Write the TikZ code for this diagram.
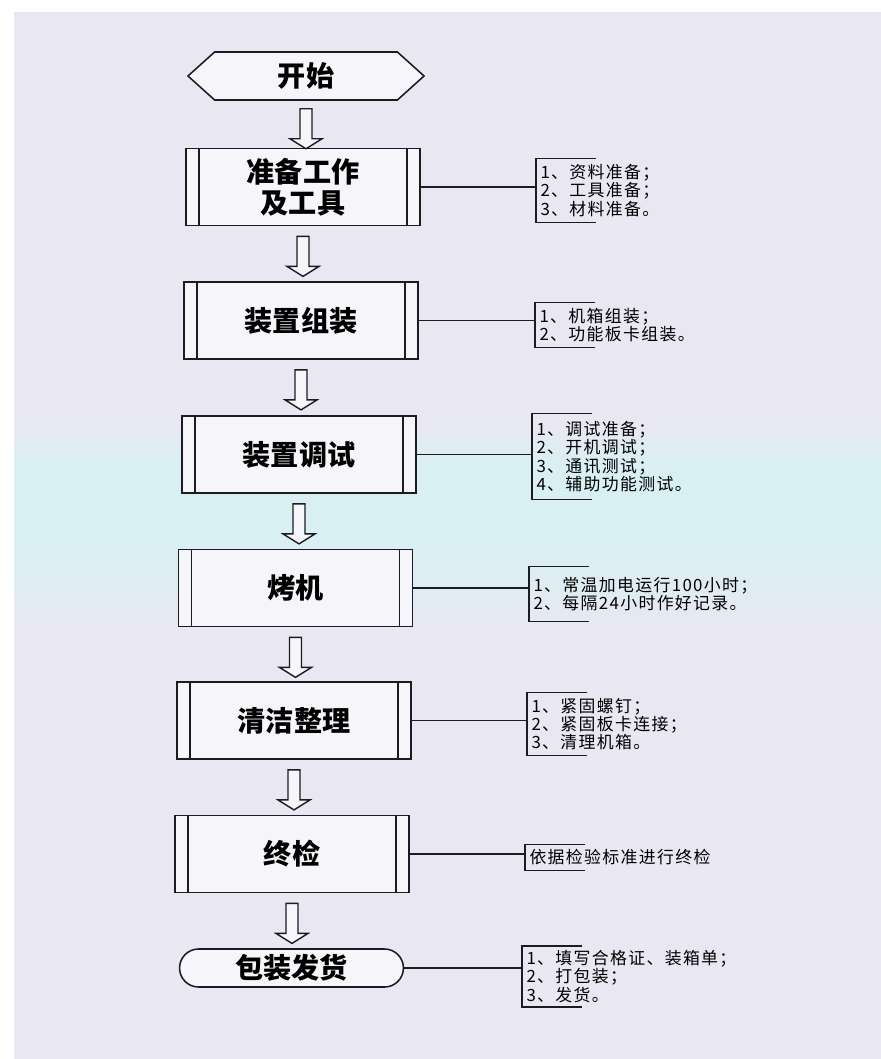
\documentclass[tikz,border=0pt]{standalone}
\usepackage{fontspec}
\setmainfont{Noto Sans CJK SC}
\newfontfamily\notefont{Noto Sans CJK SC}[LetterSpace=8]
\usepackage{tikz}
\usetikzlibrary{shapes.symbols,shapes.misc,positioning}
\definecolor{paper}{RGB}{233,231,242}
\definecolor{tint}{RGB}{216,240,244}
\definecolor{boxfill}{RGB}{246,246,250}
\definecolor{ink}{RGB}{28,28,32}
\tikzset{every node/.append style={transform shape=false}}
\tikzset{
  link/.style={draw=ink, line width=1.1pt},
  proc/.style={link, fill=boxfill, minimum width=5.85cm, minimum height=1.93cm,
    align=center, font=\fontsize{20}{22}\selectfont\bfseries,
    path picture={
      \draw[ink, line width=1.1pt]
        ([xshift=0.33cm]path picture bounding box.north west) -- ([xshift=0.33cm]path picture bounding box.south west)
        ([xshift=-0.33cm]path picture bounding box.north east) -- ([xshift=-0.33cm]path picture bounding box.south east);}},
  note/.style={anchor=west, align=left, inner xsep=3pt, inner ysep=3pt,
    font=\notefont\fontsize{12}{13}\selectfont},
  down/.pic={\draw[ink, line width=1pt, fill=boxfill]
    (-6,0) -- (-6,30) -- (-16,30) -- (0,40) -- (16,30) -- (6,30) -- (6,0) -- cycle;}
}
\begin{document}
\begin{tikzpicture}[x=0.025cm,y=-0.025cm]
  \useasboundingbox (0,0) rectangle (881,1059);
  % scanned page
  \fill[white] (0,0) rectangle (881,1059);
  \fill[paper] (14,12) rectangle (881,1059);
  \shade[top color=paper, bottom color=tint] (14,420) rectangle (881,470);
  \fill[tint] (14,470) rectangle (881,540);
  \shade[top color=tint, bottom color=paper] (14,540) rectangle (881,640);

  \node[signal, signal to=west and east, signal pointer angle=84, link, fill=boxfill,
        minimum width=5.9cm, minimum height=1.2cm, font=\fontsize{20}{22}\selectfont\bfseries]
        (s) at (306,76) {开始};
  \node[proc] (b1) at (303,187) {准备工作\\及工具};
  \node[proc] (b2) at (301,320.5) {装置组装};
  \node[proc] (b3) at (299,454.5) {装置调试};
  \node[proc] (b4) at (295.5,588) {烤机};
  \node[proc] (b5) at (294,720.5) {清洁整理};
  \node[proc] (b6) at (292,854) {终检};
  \node[rounded rectangle, link, fill=boxfill, minimum width=5.83cm, minimum height=0.95cm,
        font=\fontsize{20}{22}\selectfont\bfseries] (b7) at (291.5,968) {包装发货};

  \node[note, minimum height=1.58cm] (n1) at (536,190.5) {1、资料准备；\\2、工具准备；\\3、材料准备。};
  \node[note, minimum height=1.1cm]  (n2) at (535,325) {1、机箱组装；\\2、功能板卡组装。};
  \node[note, minimum height=2.13cm] (n3) at (532,456.5) {1、调试准备；\\2、开机调试；\\3、通讯测试；\\4、辅助功能测试。};
  \node[note, minimum height=1.35cm] (n4) at (529,594) {1、常温加电运行100小时；\\2、每隔24小时作好记录。};
  \node[note, minimum height=1.55cm] (n5) at (527,724) {1、紧固螺钉；\\2、紧固板卡连接；\\3、清理机箱。};
  \node[note, minimum height=0.63cm] (n6) at (525,857.5) {依据检验标准进行终检};
  \node[note, minimum height=1.38cm] (n7) at (522,976.5) {1、填写合格证、装箱单；\\2、打包装；\\3、发货。};

  \path (s.south) ++(0,8) pic {down};
  \foreach \i/\j in {1/2,2/3,3/4,4/5,5/6,6/7}
    \path (b\i.south) ++(0,10) pic {down};

  \foreach \i in {1,...,7}{
    \draw[link] (b\i.east) -- (b\i.east -| n\i.west);
    \draw[link] ([xshift=1.5cm]n\i.north west) -| (n\i.south west) -- ([xshift=1.5cm]n\i.south west);
  }
\end{tikzpicture}
\end{document}
